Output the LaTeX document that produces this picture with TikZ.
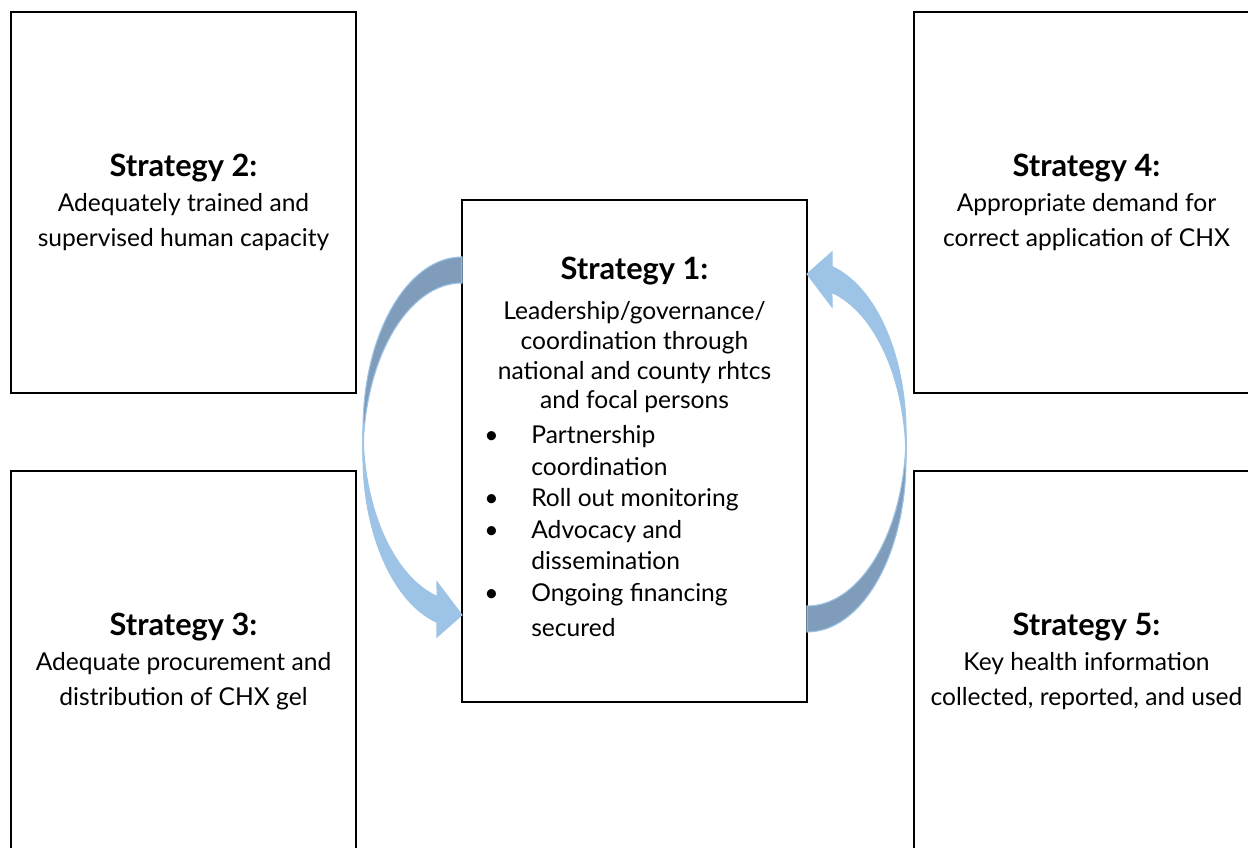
\documentclass[tikz,border=0pt]{standalone}
\usepackage{fontspec}
\setmainfont{Lato}
\usetikzlibrary{calc}
\definecolor{arrlight}{HTML}{9DC3E6}
\definecolor{arrdark}{HTML}{7F9DBA}
\newcommand{\strat}[1]{{\bfseries\fontsize{17.5}{21}\selectfont Strategy #1:}}

\begin{document}
\begin{tikzpicture}[x=0.02cm, y=0.02cm,
    box/.style={draw, line width=1.1pt, minimum width=6.9cm, minimum height=7.62cm,
                align=center, inner sep=0pt, font=\fontsize{14}{19.8}\selectfont},
    back/.style={fill=arrdark, draw=arrlight, line width=0.6pt},
    front/.style={fill=arrlight, draw=arrlight, line width=0.6pt}]
  \useasboundingbox (0,0) rectangle (1248,848);
  \clip (0,0) rectangle (1248,848);
  % outer strategies
  \node[box] (s2) at (183.5,645.5)  {\strat{2}\\Adequately trained and\\supervised human capacity};
  \node[box] (s3) at (183.5,186.5)  {\strat{3}\\Adequate procurement and\\distribution of CHX gel};
  \node[box] (s4) at (1086.5,645.5) {\strat{4}\\Appropriate demand for\\correct application of CHX};
  \node[box] (s5) at (1086.5,186.5) {\strat{5}\\Key health information\\collected, reported, and used};
  % central strategy
  \node[box, minimum height=10.04cm] (s1) at (634.5,397) {};
  \node[anchor=north, align=center, inner sep=0pt, font=\fontsize{14}{17}\selectfont] (s1h)
    at (634.5,591) {\strat{1}\\[5.5pt]Leadership/governance/\\coordination through\\national and county rhtcs\\and focal persons};
  \node[anchor=north west, inner sep=0pt, font=\fontsize{14}{18}\selectfont] (s1b) at (484,427)
    {\begin{tabular}{@{}p{0.94cm}@{}l@{}}
      \textbullet & Partnership\\
                  & coordination\\
      \textbullet & Roll out monitoring\\
      \textbullet & Advocacy and\\
                  & dissemination\\
      \textbullet & Ongoing financing\\[2pt]
                  & secured
    \end{tabular}};
  % curved arrows round the central box
  \coordinate (mid) at ($(s1.center)+(0,6.5)$);
  \foreach \turn in {0,180} {
    \begin{scope}[shift={(mid)}, rotate=\turn]
      \filldraw[back] (-172.5,187.5) arc[start angle=90, end angle=180, x radius=99, y radius=172.5]
        -- (-271.5,-11) arc[start angle=180, end angle=90, x radius=99, y radius=172.5] -- cycle;
      \filldraw[front] (-271.5,15) arc[start angle=180, end angle=255.4, x radius=99, y radius=172.5]
        -- (-197.5,-137.5) -- (-172.5,-170.5) -- (-197.5,-192.5) -- (-197.5,-177.9)
        arc[start angle=255.4, end angle=180, x radius=99, y radius=172.5] -- cycle;
    \end{scope}
  }
\end{tikzpicture}
\end{document}
